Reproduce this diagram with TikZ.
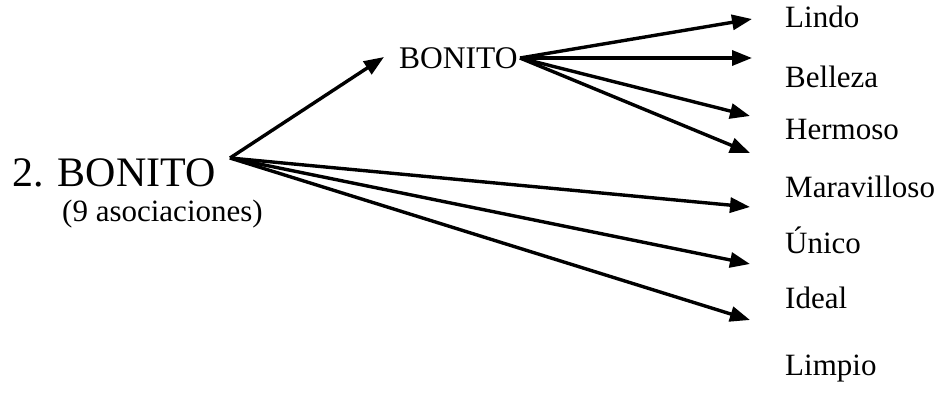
\documentclass[tikz,border=0pt]{standalone}
\usepackage{fontspec}
\setmainfont{Liberation Serif}
\usetikzlibrary{arrows.meta}
\begin{document}
\begin{tikzpicture}[x=1pt,y=-1pt,
  conn/.style={line width=3.4pt,-{Triangle[length=20pt,width=15pt]}},
  lbl/.style={anchor=base west,inner sep=0pt,font=\fontsize{31}{31}\selectfont},
  big/.style={anchor=base west,inner sep=0pt,font=\fontsize{42}{42}\selectfont}]
\useasboundingbox (0,0) rectangle (938,393);
% main nodes
\node[big] (root) at (12,187) {2. BONITO};
\node[lbl] (rootsub) at (62,222) {(9 asociaciones)};
\node[lbl, font=\fontsize{31.5}{31.5}\selectfont] (mid) at (399,69) {BONITO};
% hubs
\coordinate (rhub) at (230,158);
\coordinate (mhub) at (520,58);
% targets
\node[lbl] (lindo) at (785,28) {Lindo};
\node[lbl] (belleza) at (785,88) {Belleza};
\node[lbl] (hermoso) at (785,140) {Hermoso};
\node[lbl] (maravilloso) at (785,197) {Maravilloso};
\node[lbl] (unico) at (785,253) {Único};
\node[lbl] (ideal) at (785,308) {Ideal};
\node[lbl] (limpio) at (785,375) {Limpio};
% arrow tips
\coordinate (tmid) at (384,57);
\coordinate (tlindo) at (752,19);
\coordinate (tbelleza) at (752,58);
\coordinate (thermoso) at (750,116);
\coordinate (therm2) at (750,153);
\coordinate (tmaravilloso) at (750,207);
\coordinate (tunico) at (750,264);
\coordinate (tideal) at (750,320);
% connectors
\draw[conn] (rhub) -- (tmid);
\draw[conn] (mhub) -- (tlindo);
\draw[conn] (mhub) -- (tbelleza);
\draw[conn] (mhub) -- (thermoso);
\draw[conn] (mhub) -- (therm2);
\draw[conn] (rhub) -- (tmaravilloso);
\draw[conn] (rhub) -- (tunico);
\draw[conn] (rhub) -- (tideal);
\end{tikzpicture}
\end{document}
